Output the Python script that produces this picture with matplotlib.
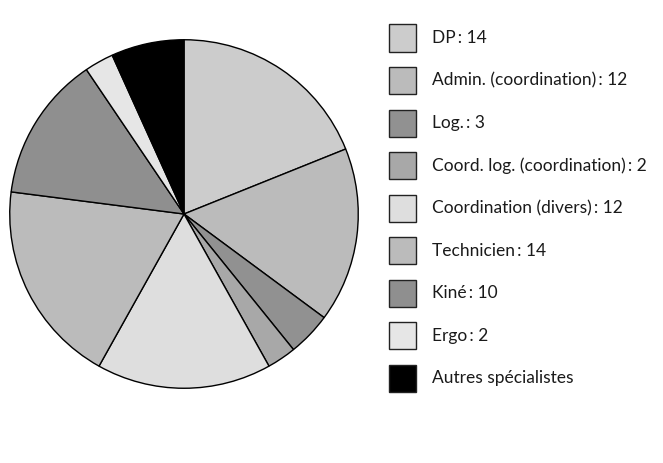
import matplotlib
matplotlib.use("Agg")
import matplotlib.pyplot as plt
from matplotlib.patches import Rectangle

plt.rcParams['font.family'] = ['Lato', 'DejaVu Sans']

categories = ["DP", "Admin. (coordination)", "Log.", "Coord. log. (coordination)",
              "Coordination (divers)", "Technicien", "Kiné", "Ergo", "Autres spécialistes"]
values = [14, 12, 3, 2, 12, 14, 10, 2, 5]
show_value = [True, True, True, True, True, True, True, True, False]
colors = ["#cccccc", "#bbbbbb", "#919191", "#a8a8a8", "#dedede",
          "#bbbbbb", "#8f8f8f", "#e6e6e6", "#000000"]

W, H = 663, 463
fig = plt.figure(figsize=(W / 100, H / 100), dpi=100)

# pie placed in pixel units
cx, cy, r = 184, 214, 176
ax = fig.add_axes([(cx - r) / W, (H - cy - r) / H, 2 * r / W, 2 * r / H])
ax.pie(values, colors=colors, startangle=90, counterclock=False, radius=1,
       wedgeprops=dict(edgecolor="black", linewidth=1.0))
ax.set_xlim(-1.01, 1.01)
ax.set_ylim(-1.01, 1.01)
ax.set_aspect("equal")
ax.axis("off")

# legend column
sq = 27
x_sq = 389
x_txt = 432
y0, dy = 38, 42.5
for i, (cat, val, show, col) in enumerate(zip(categories, values, show_value, colors)):
    yc = y0 + i * dy
    fig.patches.append(Rectangle(((x_sq) / W, (H - yc - sq / 2) / H), sq / W, sq / H,
                                 transform=fig.transFigure, facecolor=col,
                                 edgecolor="#222222", linewidth=1.0))
    label = f"{cat}\u2009: {val}" if show else cat
    fig.text(x_txt / W, (H - yc) / H, label, ha="left", va="center",
             fontsize=12.5, color="#1a1a1a")

fig.savefig("out.png", dpi=100, facecolor="white")
